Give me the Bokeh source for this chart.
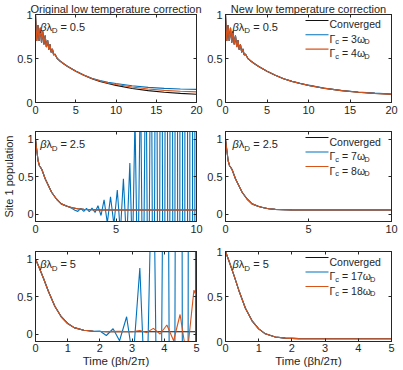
import math
from bokeh.plotting import figure
from bokeh.models import Range1d, LinearAxis, Label, FixedTicker, CustomJSTickFormatter, Title
from bokeh.layouts import gridplot
from bokeh.embed import file_html
from bokeh.resources import INLINE

FONT = "Liberation Sans"
TXT = "#262626"
BLUE = "#0072BD"
ORANGE = "#D95319"
BLACK = "#111111"

# ---------------- data ----------------
# top row, time axis 0..20
t_top = [0, 0.15, 0.3, 0.45, 0.6, 0.75, 0.9, 1.05, 1.2, 1.35, 1.5, 1.65, 1.8, 1.95, 2.1, 2.25, 2.4,
         2.7, 3.0, 3.5, 4, 5, 6, 7, 8, 9, 10, 12, 14, 16, 18, 20]
top_early = [1.00, 0.70, 0.88, 0.70, 0.85, 0.68, 0.81, 0.66, 0.76, 0.63, 0.71, 0.60, 0.66, 0.57, 0.61, 0.54, 0.55]
conv_top_late = [0.50, 0.475, 0.44, 0.41, 0.355, 0.31, 0.27, 0.24, 0.215, 0.195, 0.16, 0.135, 0.117, 0.104, 0.094]
blue_orig_late = [0.50, 0.475, 0.44, 0.41, 0.357, 0.313, 0.276, 0.25, 0.23, 0.215, 0.19, 0.172, 0.161, 0.154, 0.149]
orange_orig_late = [0.50, 0.475, 0.44, 0.41, 0.356, 0.311, 0.273, 0.245, 0.222, 0.205, 0.176, 0.153, 0.138, 0.128, 0.121]
blue_new_late = [0.50, 0.475, 0.44, 0.41, 0.356, 0.311, 0.271, 0.241, 0.217, 0.197, 0.162, 0.137, 0.119, 0.106, 0.096]
orange_new_late = [0.50, 0.475, 0.44, 0.41, 0.355, 0.31, 0.27, 0.24, 0.215, 0.195, 0.16, 0.135, 0.117, 0.104, 0.094]

# middle row, time axis 0..10
t_mid = [0, 0.08, 0.16, 0.25, 0.32, 0.4, 0.5, 0.6, 0.8, 1.0, 1.3, 1.6, 2.0, 2.3, 2.6, 3.0, 3.5, 4, 5, 6, 7, 8, 9, 10]
conv_mid = [1.0, 0.85, 0.71, 0.64, 0.62, 0.59, 0.53, 0.47, 0.38, 0.29, 0.20, 0.135, 0.10, 0.083, 0.07, 0.062,
            0.057, 0.055, 0.053, 0.053, 0.053, 0.053, 0.053, 0.053]
t_blue_mid = [0, 0.08, 0.16, 0.25, 0.32, 0.4, 0.5, 0.6, 0.8, 1.0, 1.3, 1.6, 2.0, 2.25, 2.45, 2.63, 2.81, 3.0,
              3.17, 3.34, 3.51, 3.7, 3.88, 4.07, 4.26, 4.46, 4.66, 4.87, 5.08, 5.27, 5.46, 5.66, 5.86, 6.02,
              6.18, 6.35, 6.52, 6.68, 6.85, 7.01, 7.17, 7.33, 7.49, 7.65, 7.81, 7.97, 8.13, 8.28, 8.44, 8.6,
              8.75, 8.9, 9.06, 9.21, 9.37, 9.52, 9.68, 9.83, 9.99, 10.1]
blue_mid = [1.0, 0.85, 0.71, 0.64, 0.62, 0.59, 0.53, 0.47, 0.38, 0.29, 0.20, 0.135, 0.10, 0.075, 0.05, 0.035,
            0.075, 0.035, 0.075, 0.03, 0.08, 0.02, 0.11, -0.02, 0.19, -0.12, 0.23, -0.14, 0.32, -0.25, 0.47,
            -0.4, 0.68, -0.6, 1.3, -1.1, 1.9, -1.7, 2.6, -2.4, 3.6, -3.4, 5.0, -4.8, 7.0, -6.8, 10.0, -9.5,
            14.0, -13.0, 19.0, -18.0, 26.0, -25.0, 36.0, -35.0, 50.0, -48.0, 68.0, -66.0]

# bottom row, time axis 0..5
t_bot = [0, 0.1, 0.25, 0.4, 0.6, 0.8, 1.0, 1.2, 1.5, 1.8, 2.2, 3, 4, 5]
conv_bot = [1.0, 0.9, 0.74, 0.57, 0.37, 0.23, 0.14, 0.085, 0.05, 0.037, 0.032, 0.03, 0.03, 0.03]
t_blue_bot = [0, 0.1, 0.25, 0.4, 0.6, 0.8, 1.0, 1.2, 1.5, 1.8, 2.0, 2.2, 2.41, 2.61, 2.83, 3.03, 3.24, 3.44,
              3.65, 3.85, 4.06, 4.26, 4.47, 4.67, 4.88, 5.08]
blue_bot = [1.0, 0.9, 0.74, 0.57, 0.37, 0.23, 0.14, 0.085, 0.05, 0.037, 0.04, -0.02, 0.07, -0.09, 0.23, -0.35,
            0.88, -1.2, 3.0, -4.0, 8.0, -10.0, 20.0, -25.0, 50.0, -60.0]
t_orange_bot = [0, 0.1, 0.25, 0.4, 0.6, 0.8, 1.0, 1.2, 1.5, 1.8, 2.2, 2.6, 3.0, 3.24, 3.45, 3.66, 3.87, 4.08,
                4.29, 4.49, 4.7, 4.92, 5.0]
orange_bot = [1.0, 0.9, 0.74, 0.57, 0.37, 0.23, 0.14, 0.085, 0.05, 0.037, 0.032, 0.035, 0.03, 0.045, 0.02,
              0.075, 0.0, 0.12, -0.09, 0.26, -0.32, 0.585, 0.5]

panel_values = ["0.5", "2.5", "5"]
legend_gammas = [("3", "4"), ("7", "8"), ("17", "18")]
titles = ["Original low temperature correction", "New low temperature correction"]
xlabel = "Time (βh/2π)"
ylabel = "Site 1 population"

# ---------------- layout helpers ----------------
FW = 166
WID = {' ': 278, '=': 584, '.': 278, 'Γ': 556, 'ω': 690, 'β': 575, 'λ': 500, 'c': 500, 'D': 722,
       'h': 556, '/': 278, '(': 333, ')': 333, 'π': 600, 'T': 611, 'i': 222, 'm': 833, 'e': 556}
for d in "0123456789":
    WID[d] = 556


def tw(s, size):
    return sum(WID.get(ch, 556) for ch in s) * size / 1000.0


def px2data(p, fh, dx, dy):
    xr, yr = p.x_range, p.y_range
    X = xr.start + dx / FW * (xr.end - xr.start)
    Y = yr.end - dy / fh * (yr.end - yr.start)
    return X, Y


def rich(p, fh, x0, yb, pieces):
    x = x0
    for t, s, st, dy in pieces:
        core = t.strip(" ")
        lead = len(t) - len(t.lstrip(" "))
        xs = x + tw(" " * lead, s)
        if core:
            X, Y = px2data(p, fh, xs, yb + dy)
            p.add_layout(Label(x=X, y=Y, text=core, text_font=FONT, text_font_size=f"{s}px",
                               text_font_style=st, text_color=TXT, text_baseline="alphabetic",
                               text_align="left"))
        x += tw(t, s)


def make_fig(row, col, xmax, ylim, xt, yt):
    ml = 30 if col == 0 else 21
    mr = 8 if col == 0 else 12
    mt = [11, 10, 11][row]
    mb = [19, 19, 29][row]
    fh = [89, 90, 90][row]
    p = figure(width=ml + FW + mr, height=[121, 119, 130][row], x_range=Range1d(0, xmax),
               y_range=Range1d(*ylim), output_backend="svg", toolbar_location=None, title=None,
               min_border_left=ml, min_border_right=mr, min_border_top=mt, min_border_bottom=mb)
    p.grid.visible = False
    p.outline_line_color = TXT
    p.background_fill_color = "white"
    p.border_fill_color = "white"
    over = {v: ("%g" % v) for v in yt}
    bottom_ax = p.below[0]
    left_ax = p.left[0]
    bottom_ax.ticker = FixedTicker(ticks=xt)
    left_ax.ticker = FixedTicker(ticks=yt)
    left_ax.major_label_overrides = over
    for ax in (bottom_ax, left_ax):
        ax.major_tick_in = 3
        ax.major_tick_out = 0
        ax.minor_tick_line_color = None
        ax.axis_line_color = TXT
        ax.major_tick_line_color = TXT
        ax.major_label_text_font = FONT
        ax.major_label_text_font_size = "11px"
        ax.major_label_text_color = TXT
        ax.major_label_standoff = 3
    blank = CustomJSTickFormatter(code="return ''")
    p.add_layout(LinearAxis(ticker=FixedTicker(ticks=yt), formatter=blank, major_label_standoff=0,
                            major_label_text_font_size="0px", major_tick_in=3, major_tick_out=0,
                            minor_tick_line_color=None, axis_line_color=TXT,
                            major_tick_line_color=TXT), "right")
    p.add_layout(LinearAxis(ticker=FixedTicker(ticks=xt), formatter=blank, major_label_standoff=0,
                            major_label_text_font_size="0px", major_tick_in=3, major_tick_out=0,
                            minor_tick_line_color=None, axis_line_color=TXT,
                            major_tick_line_color=TXT), "above")
    return p, fh, bottom_ax, left_ax


specs = [
    (20, (0, 1), [0, 5, 10, 15, 20], (0, 1)),
    (10, (-0.1, 1.1), [0, 5, 10], (-0.1, 1.1)),
    (5, (-0.1, 1.1), [0, 1, 2, 3, 4, 5], (0, 1)),
]
series = [
    [(t_top, top_early + conv_top_late), (t_top, top_early + blue_orig_late), (t_top, top_early + orange_orig_late)],
    [(t_top, top_early + conv_top_late), (t_top, top_early + blue_new_late), (t_top, top_early + orange_new_late)],
    [(t_mid, conv_mid), (t_blue_mid, blue_mid), (t_mid, conv_mid)],
    [(t_mid, conv_mid), (t_mid, conv_mid), (t_mid, conv_mid)],
    [(t_bot, conv_bot), (t_blue_bot, blue_bot), (t_orange_bot, orange_bot)],
    [(t_bot, conv_bot), (t_bot, conv_bot), (t_bot, conv_bot)],
]

figs = []
for row in range(3):
    xmax, ylim_l, xt, ylim_r = specs[row]
    for col in range(2):
        ylim = ylim_l if col == 0 else ylim_r
        p, fh, bottom_ax, left_ax = make_fig(row, col, xmax, ylim, xt, [0, 0.5, 1])
        k = row * 2 + col
        for (tx, vy), colr in zip(series[k], [BLACK, BLUE, ORANGE]):
            p.line(tx, vy, line_color=colr, line_width=1.1)
        # panel annotation  βλ_D = value
        x0 = 5 if col == 0 else 7
        rich(p, fh, x0, 12.5, [("β", 11, "italic", 0), ("λ", 11, "normal", 0), ("D", 8, "normal", 4),
                               (" = " + panel_values[row], 11, "normal", 0)])
        if col == 1:
            g1, g2 = legend_gammas[row]
            rows_y = [6, 20.5, 35]
            for yy, colr in zip(rows_y, [BLACK, BLUE, ORANGE]):
                xa, ya = px2data(p, fh, 80, yy)
                xb, yb = px2data(p, fh, 103, yy)
                p.line([xa, xb], [ya, yb], line_color=colr, line_width=1.1)
            rich(p, fh, 104, rows_y[0] + 4, [("Converged", 10.5, "normal", 0)])
            for yy, g in zip(rows_y[1:], [g1, g2]):
                rich(p, fh, 104, yy + 4, [("Γ", 10.5, "normal", 0), ("c", 7.5, "normal", 3),
                                          (" = " + g + "ω", 10.5, "normal", 0), ("D", 7.5, "normal", 3)])
        if row == 0:
            p.add_layout(Title(text=titles[col], align="center", offset=-7, standoff=0,
                               text_font=FONT, text_font_size="11px", text_font_style="normal",
                               text_color=TXT), "above")
        if row == 2:
            bottom_ax.major_label_standoff = 2
            bottom_ax.axis_label = xlabel
            bottom_ax.axis_label_standoff = 0
            bottom_ax.axis_label_text_font = FONT
            bottom_ax.axis_label_text_font_size = "11.5px"
            bottom_ax.axis_label_text_font_style = "normal"
            bottom_ax.axis_label_text_color = TXT
        if row == 1 and col == 0:
            left_ax.axis_label = ylabel
            left_ax.axis_label_standoff = 0
            left_ax.major_label_standoff = 2
            left_ax.axis_label_text_font = FONT
            left_ax.axis_label_text_font_size = "11px"
            left_ax.axis_label_text_font_style = "normal"
            left_ax.axis_label_text_color = TXT
        figs.append(p)

grid = gridplot([[figs[0], figs[1]], [figs[2], figs[3]], [figs[4], figs[5]]], toolbar_location=None)

open("out.html", "w").write(file_html(grid, INLINE))
